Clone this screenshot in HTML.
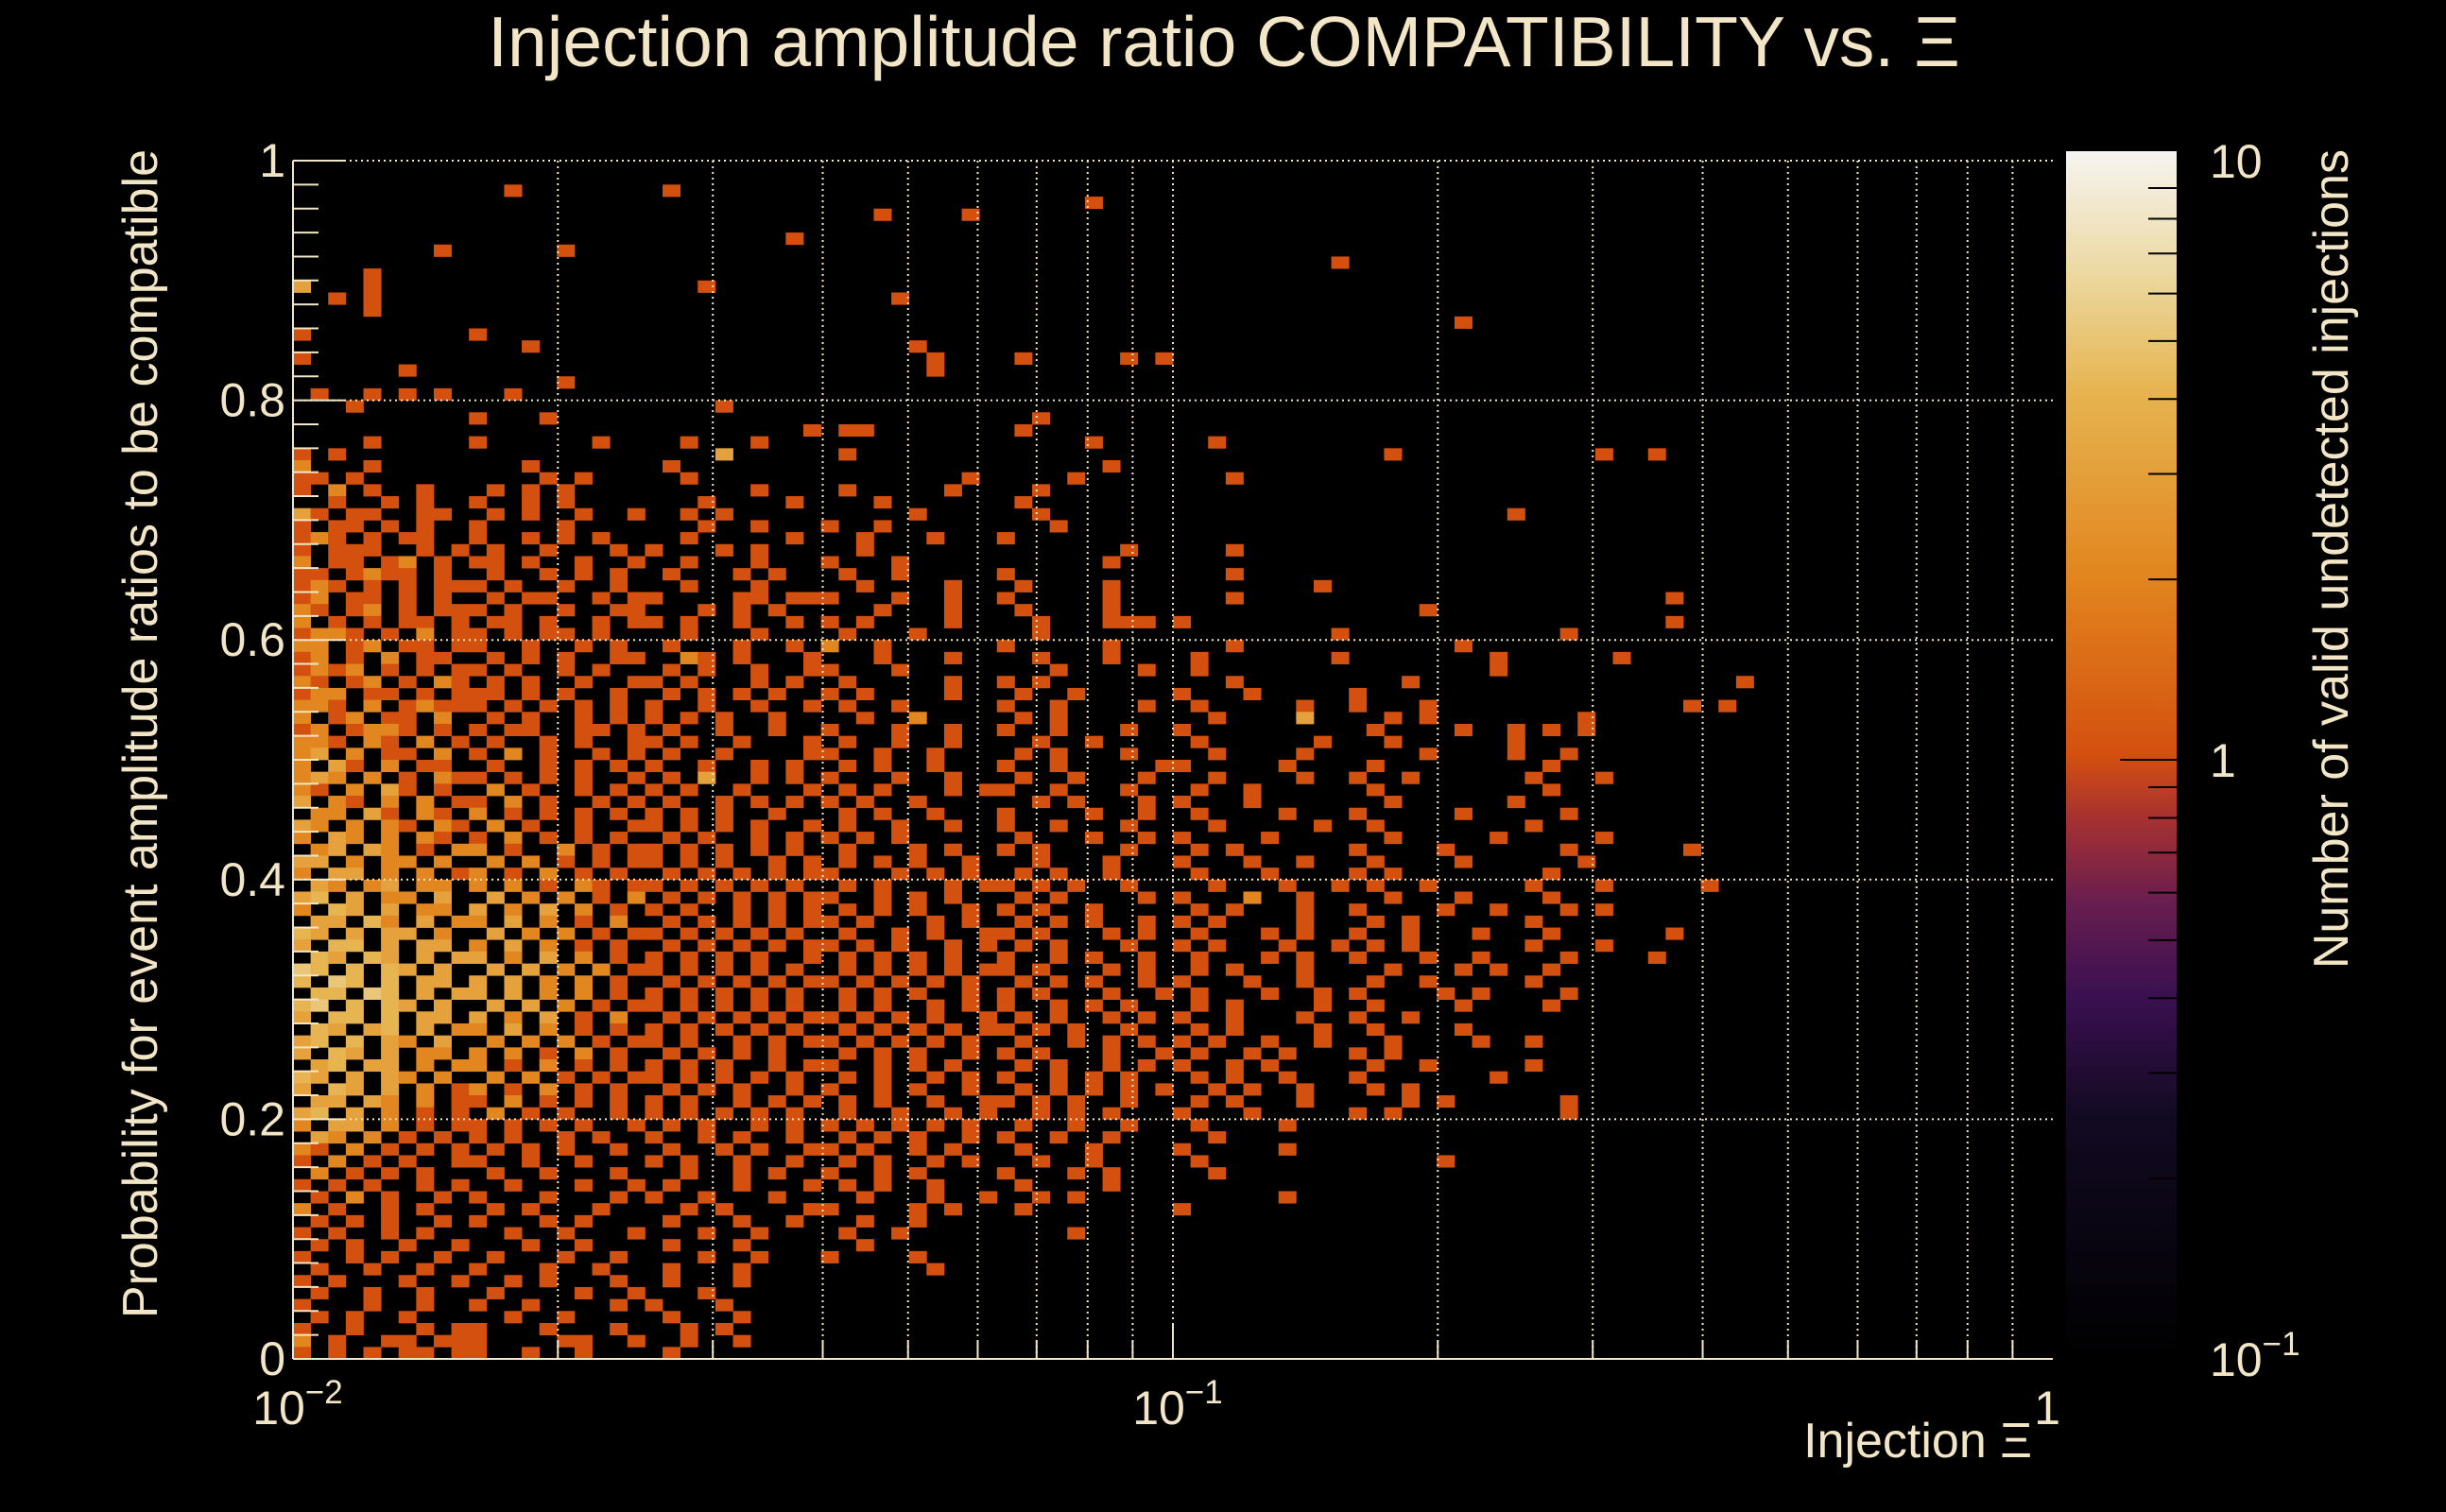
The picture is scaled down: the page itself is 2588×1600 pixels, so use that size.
<!DOCTYPE html>
<html><head><meta charset="utf-8"><style>
html,body{margin:0;padding:0;background:#000;}
svg{display:block;}
text{font-family:"Liberation Sans",sans-serif;fill:#f2e6c6;}
</style></head><body>
<svg id="chart" width="2588" height="1600" viewBox="0 0 2588 1600" xmlns="http://www.w3.org/2000/svg">
<rect width="2588" height="1600" fill="#000"/>
<defs>
<linearGradient id="cbg" x1="0" y1="1" x2="0" y2="0">
<stop offset="0" stop-color="#000000"/><stop offset="0.2" stop-color="#120a22"/>
<stop offset="0.3" stop-color="#3a1050"/><stop offset="0.38" stop-color="#6a1e4f"/>
<stop offset="0.45" stop-color="#a83230"/><stop offset="0.5" stop-color="#d4500f"/>
<stop offset="0.65" stop-color="#e2861f"/><stop offset="0.8" stop-color="#e6b450"/>
<stop offset="0.9" stop-color="#ecd9a2"/><stop offset="1" stop-color="#f6f4f0"/>
</linearGradient>
</defs>
<g id="cells"></g>
<g id="grid"></g>
<g id="axes"></g>
<text x="1295" y="70" font-size="75" text-anchor="middle">Injection amplitude ratio COMPATIBILITY vs.  Ξ</text>
<text transform="translate(166,158) rotate(-90)" font-size="52" text-anchor="end">Probability for event amplitude ratios to be compatible</text>
<text x="2150" y="1542" font-size="52" text-anchor="end">Injection Ξ</text>
<rect x="2186" y="160" width="117" height="1278" fill="url(#cbg)"/>
<g id="cbar"></g>
<text transform="translate(2484,158) rotate(-90)" font-size="52" text-anchor="end">Number of valid undetected injections</text>
</svg>
<script>
const xTicks=[0.01,0.1,1];
const xTickLabels=["10","10","1"];
const xTickExp=["−2","−1",""];
const yTicks=[0,0.2,0.4,0.6,0.8,1];
const yTickLabels=["0","0.2","0.4","0.6","0.8","1"];
const zTicks=[0.1,1,10];
const zTickLabels=["10","1","10"];
const zTickExp=["−1","",""];
const nX=100,nY=100,xMin=0.01,xMax=1;
// rows from top (row 99) to bottom (row 0); char index = x bin, '.' = empty, digit = count
const rows=[
"","",
".......... ..1....... .1........",
".......... .......... .......... .......... .....1....",
".......... .......... .......... ...1....1.",
"",
".......... .......... ........1.",
"........1. .....1....",
".......... .......... .......... .......... .......... .........1",
"....1.....",
"3...1..... .......... ...1......",
"..1.1..... .......... .......... ....1.....",
"....1.....",
".......... .......... .......... .......... .......... .......... ......1...",
"1......... 1.........",
".......... ...1...... .......... .....1....",
"1......... .......... .......... ......1... .1.....1.1",
"......1... .......... .......... ......1...",
".......... .....1....",
".1..1.1.1. ..1.......",
"...1...... .......... ....1.....",
".......... 1...1..... .......... .......... ..1.......",
".......... .......... .........1 .11....... .1........",
"....1..... 1......1.. ..1...1... .......... .....1.... ..1.......",
"1.1....... .......... ....3..... .1........ .......... .......... ..1....... ....1..1..",
"2...1..... ...1...... .1........ .......... ......1...",
"11.1...... ....1.1... ..1....... ........1. ....1..... ...1......",
"1.2.1..1.. .1.1.1.... ......1... .1.....1.. ..1.......",
"..1..1.1.. 1..1.1.... ...1....1. ...1...... .1........",
"31.11..11. .1.1..1..1 ..1.1..... .....1.... ..1....... .......... .........1",
"1.11.1.1.. 1....1.... ...1..1... 1..1...... ...1......",
"121.1.11.. 1..1.1.1.. ..1.....1. ..1...1... 1.........",
"1.111..1.1 .1..1...1. 1...1.1... ..1....... .......1.. ...1......",
"2.11.12.1. 11.1..1..1 ..1...1... 1...1..... ......1...",
"11.1211.1. .1..1.1.1. .1...1.1.. .1..1..... 1......... ...1......",
"121.1.1.11 1.1..1..1. ..1...1... ..1....1.. .1....1... ........1.",
"12.11.1.1. .1.11..1.1 1....11.11 1...1..1.. 1.....1... ...1...... .......... ........1.",
"21.12.1.11 1.1..1..11 ...1.1.1.. ...1...1.. .1....1... .......... ....1.....",
"2.1.1.11.1 .11.1..1.1 1.1..1..1. 1.1....1.. ..1...111. 1......... .......... ........1.",
"1221.1.2.1 1.1.11.1.. ..1...1... .1...1.... ..1....... .........1 .......... ..1.......",
"22.12.11.1 1..1..1.1. .1...1..1. 2..1...... 1.....1... ...1...... ......1...",
"12.1.2.11. .1.1.1..11 ..21.1...1 ...1...1.. ..1...1... .1.......1 ........1. .....1....",
"1212.1.1.1 1.1..1.1.. .1.1..1..1 1...1..... ...1....1. .1........ ........1.",
"21.12.1.21 .1.1..1..1 1.1...1.1. .1.....1.. 1.1....... ...1...... ...1...... .......... ..1.......",
"122.11.1.1 11.1.1..1. .1.1.1.1.. 1.1....1.. .1..1..... 1...1..... 1.........",
"221.2.1211 1.1.1.1.1. 1..1..1..1 .1..1..... 1..1....1. .1.....1.. 1...1..... .........1 .1........",
"2.12.11.2. .1.1..1.1. 1.1.1..1.. ..1..2.... .1.1...... ..1....3.. ..1.1..... ...1......",
"12.1221.1. 1.11..11.1 .1..1..1.. 1...1..1.. 1..1...1.. 1......... .1....1..1 .1.1......",
"221.21.2.1 .1..1.1..1 1.1..1...1 .1..1..1.. ..1..1.... .1......1. ..1......1",
"23.2.11.2. 1.2.1..1.1 .1..1....1 1..1..1... .1.1...1.. ..1....1.. ....1....1 ..1.......",
"2.31.2.11. .1..1.1.1. 1..1..1.1. .1.1..1... 1..1.....1 1.....1... .1........ .1........",
"232.2.1.21 1.1.1.1..1 .1.3..1.1. 1...1..1.. .1..1...1. ..1....1.. 1..1...... 1...1.....",
"21.2.31.1. .2.1..1.1. 1.1..1...1 .1.1...1.1 1..1...1.. .1..1..... .1........ .1........",
"3.21.2.2.1 1.2.1..1.1 .1..1.1.1. 1.1..1.... ..1.1...1. 1...1..... ..1......1",
".22.31.21. 2.1.1.1.1. 1.1.1..1.. .1.1..1... 1....1..1. .1....1... 1.....1... ..1.......",
"32.2.21.21 .2.1..1..1 1.1.1.1..1 .1..1..1.. 1..1...1.. ..1.....1. .1........ 1.........",
"2.32.2.21. 1.2.1.1.1. .1.1..1.1. 1.1.1..... .1...1..1. 1....1.... ..1.....1. ....1.....",
".23.32.1.2 2.1..2.1.1 1.1.1.1.1. .1...1.1.. 1.1....1.. .1.1...... 1....1.... ..1......1",
"33.2.22.2. .2.2.1.1.1 1.1.1..1.1 .1.1.1..1. ..1...1... 1...1..1.. .1....1... ...1......",
"2.33.2.2.1 2.1.2.1.1. .1.1.1.1.1 1...1.1.1. .1.1..1... .1...1.... 1.1....... .1........",
".32.23.22. 2.2.1.21.1 1.1.1.1.1. .1.1...1.1 1.1.1..1.. ..1...1..1 .1..1..... 1...1..... 1.........",
"34.3.22.3. .3.2.2.1.2 .1.1.1.1.1 1..1.1.1.. .1.1....1. 1...2..1.. ..1...1... .1........",
"2.43.3.22. 3.2.3.2.1. 1.1..1.1.1 .1.1.1..1. 1.1..1.... .1.1...1.. 1....1..1. ..1.1.....",
".33.42.3.2 2.3.2.1.2. .1.1.1.1.1 1.1...1.1. .1.1.1..1. 1.1....1.. .1.1...... 1.........",
"43.3.33.2. .3.2.2.1.1 1.1.1.1.1. .1..1.1..1 1.1...1.1. .1...1.1.. 1..1...1.. .1......1.",
"3.44.3.33. 2.3.2.1.1. .1.1.1.1.1 1.1.1..1.1 .1.1...1.. 1.1...1..1 .1.1...... 1...1.....",
".43.43.3.3 3.2.3.2.1. 1.1.1.1..1 .1.1.1.1.. 1..1.1..1. .1...1.1.. 1...1..1.. ..1....1..",
"54.4.43.3. .3.3.2.2.1 1.1.1.1.1. .1.1.1.1.1 1.1...1.1. .1.1...1.. ..1...1.1. .1........",
"4.54.4.33. 3.3.2.2.1. .1.1.1.1.1 1.1.1.1.1. .1.1.1..1. 1...1..1.. .1..1..... 1.........",
".44.54.3.3 3.3.2.2.1. 1.1.1.1.1. .1.1.1..1. 1.1...1..1 .1...1..1. 1....1.1.. ..1.......",
"45.4.43.3. .3.3.2.1.1 1.1.1.1.1. .1.1..1.1. 1..1.1.1.. .1.1....1. .1....1... .1........",
"3.44.4.33. 3.2.3.1.2. .1.1.1.1.1 1.1.1.1..1 .1.1..1.1. 1..1...1.. 1..1......",
".43.34.3.2 2.3.2.1.1. 1.1.1.1.1. .1.1.1.1.1 1.1.1..1.. .1.1....1. .1....1...",
"34.4.32.3. .2.2.2.1.1 1.1..1.1.1 1.1.1.1.1. .1..1.1.1. 1.1..1..1. ..1....1.. 1.........",
"3.43.3.22. 2.2.1.2.1. .1.1.1.1.. .1.1.1..1. 1.1...1..1 .1..1.1... 1.1.......",
".34.33.2.2 2.1.2.1.1. 1.1.1..1.1 1..1.1.1.. .1.1..1.1. 1..1.1.... .1..1..... 1.........",
"43.3.32.2. .2.2.1.1.1 1.1.1.1.1. .1.1..1.1. 1..1.1.1.. .1.1..1... 1.......1.",
"3.43.3.2.1 2.1.2.1.1. .1.1.1..1. 1..1.1..1. .1.1.1.1.1 ..1.1..1.. .1.1......",
".33.32.2.1 1.2.1.1.1. 1.1..1.1.1 .1.1..1..1 1.1.1..1.. .1.1...1.. ...1.1.... ..1.......",
"34.3.2.1.1 .2.1.1..1. 1.1.1.1.1. .1..1..1.1 ..1.1.1... 1...1..... 1.1....... ..1.......",
"2.33.2.1.1 1.1.1.1..1 .1.1..1.1. 1.1.1.1.1. .1..1..1.. .1....1...",
".32.2.1.1. 1.1..1.1.. 1..1.1..1. .1.1.1..1. 1..1..1... ..1.......",
"21.2.1.1.1 .1.1.1..1. .1..1.1..1 1.1..1.1.. .1...1.... 1.....1...",
"1.2.1.1..1 1..1..1... 1.1..1..1. .1.1..1.1. ..1..1.... .1........ .....1....",
".2.1.1.1.. .1..1...1. ..1..1.1.. 1..1.1.... 1...1.1... ..1.......",
"1.1.1..1.1 ..1...1..1 .1...1...1 .1.1..1... .1....1...",
".1.2.1..1. 1...1...1. 1..1...1.. ..1...1..1 ..1.1..... ......1...",
"2.1..1.1.. .1.1...1.. ..1.1....1 1....1.1.. .1........ 1.........",
".1.1.1..1. 1...1.1... .1...1..1. ..1..1....",
"1.1..1.1.. ..1..1...1 ...1..1... .1..1..... ....1.....",
".1.1..1..1 ...1..1... .1...1.... ..1.......",
"1..1.1..1. .1...1..1. ...1..1... 1....1....",
".1..1..1.. 1...1..1.. .1...1.... ......1...",
"1.1...1..1 ..1.1...1. .1...1....",
".1..1..1.. .1....1..1 ...1......",
"1...1..1.. 1..1....1. 1...1.....",
".1.1..1... ..1..1.... .1...1....",
"1..1...1.1 1...1...1. ..1.1.....",
"2.1..11.11 1....11..1 ..1..1....",
"1.1.1.11.1 1..1..1... .1........"
];
const NS="http://www.w3.org/2000/svg";
const L=310,R=2172,T=170,B=1438,CB0=2186,CB1=2303;
function xScale(v){return L+(Math.log10(v)-Math.log10(xMin))/(Math.log10(xMax)-Math.log10(xMin))*(R-L);}
function yScale(v){return B-v*(B-T);}
function zScale(v){return B-(Math.log10(v)+1)/2*(B-T);}
const stops=[[0,[0,0,0]],[0.2,[18,10,34]],[0.3,[58,16,80]],[0.38,[106,30,79]],[0.45,[168,50,48]],[0.5,[212,80,15]],[0.65,[226,134,31]],[0.8,[230,180,80]],[0.9,[236,217,162]],[1,[246,244,240]]];
function color(c){let f=(Math.log10(c)+1)/2;f=Math.max(0,Math.min(1,f));
 for(let i=1;i<stops.length;i++){if(f<=stops[i][0]){const a=stops[i-1],b=stops[i],t=(f-a[0])/(b[0]-a[0]);
 return 'rgb('+a[1].map((q,k)=>Math.round(q+(b[1][k]-q)*t)).join(',')+')';}}return 'rgb(246,244,240)';}
function mk(tag,attrs,parent){const e=document.createElementNS(NS,tag);for(const k in attrs)e.setAttribute(k,attrs[k]);parent.appendChild(e);return e;}
const cells=document.getElementById('cells');
const lx=Math.log10(xMin),hx=Math.log10(xMax);
rows.forEach((s,i)=>{const row=nY-1-i;const str=s.replace(/ /g,'');
 for(let col=0;col<str.length;col++){const ch=str[col];if(ch==='.')continue;const c=+ch;
  const x0=xScale(Math.pow(10,lx+col*(hx-lx)/nX)),x1=xScale(Math.pow(10,lx+(col+1)*(hx-lx)/nX));
  const y1=yScale(row/nY),y0=yScale((row+1)/nY);
  const r=mk('rect',{x:x0.toFixed(2),y:y0.toFixed(2),width:(x1-x0+0.4).toFixed(2),height:(y1-y0+0.4).toFixed(2),fill:color(c)},cells);
  
  
 }});
const grid=document.getElementById('grid');
const gs={stroke:'#f2e6c6','stroke-width':2,'stroke-dasharray':'2,4'};
for(let d=-2;d<0;d++)for(let m=1;m<10;m++){const v=m*Math.pow(10,d);if(v<=xMin)continue;const x=xScale(v);
 const g=mk('line',Object.assign({x1:x,x2:x,y1:T,y2:B},gs),grid);
 
 }
yTicks.forEach(v=>{if(v===0)return;const y=yScale(v);
 const g=mk('line',Object.assign({x1:L,x2:R,y1:y,y2:y},gs),grid);
 
 });
const axes=document.getElementById('axes');
const as={stroke:'#f2e6c6','stroke-width':2};
mk('line',Object.assign({x1:L,x2:L,y1:T,y2:B},as),axes);
mk('line',Object.assign({x1:L,x2:R,y1:B,y2:B},as),axes);
for(let i=0;i<=50;i++){const v=i*0.02;const y=yScale(v);const len=(i%10===0)?55:27;
 mk('line',Object.assign({x1:L,x2:L+len,y1:y,y2:y},as),axes);}
for(let d=-2;d<0;d++)for(let m=1;m<10;m++){const x=xScale(m*Math.pow(10,d));
 mk('line',Object.assign({x1:x,x2:x,y1:B,y2:B-(m===1?38:19)},as),axes);}
yTicks.forEach((v,i)=>{const t=mk('text',{x:L-8,y:yScale(v)+17,'font-size':50,'text-anchor':'end'},axes);t.textContent=yTickLabels[i];
 
 });
xTicks.forEach((v,i)=>{const x=xScale(v);const t=mk('text',{x:x+(xTickExp[i]?5:8),y:1507,'font-size':50,'text-anchor':xTickExp[i]?'middle':'end'},axes);
 t.textContent=xTickLabels[i];
 if(xTickExp[i]){const s=mk('tspan',{dy:-22,'font-size':35},t);s.textContent=xTickExp[i];}
 
 });
const cb=document.getElementById('cbar');
for(let d=-1;d<1;d++)for(let m=1;m<10;m++){const v=m*Math.pow(10,d);const y=zScale(v);
 mk('line',{x1:CB1-(m===1?60:30),x2:CB1,y1:y,y2:y,stroke:'#000','stroke-width':2},cb);}
zTicks.forEach((v,i)=>{const t=mk('text',{x:2338,y:zScale(v)+18,'font-size':50},cb);t.textContent=zTickLabels[i];
 if(zTickExp[i]){const s=mk('tspan',{dy:-22,'font-size':35},t);s.textContent=zTickExp[i];}
 
 });
</script>
</body></html>
